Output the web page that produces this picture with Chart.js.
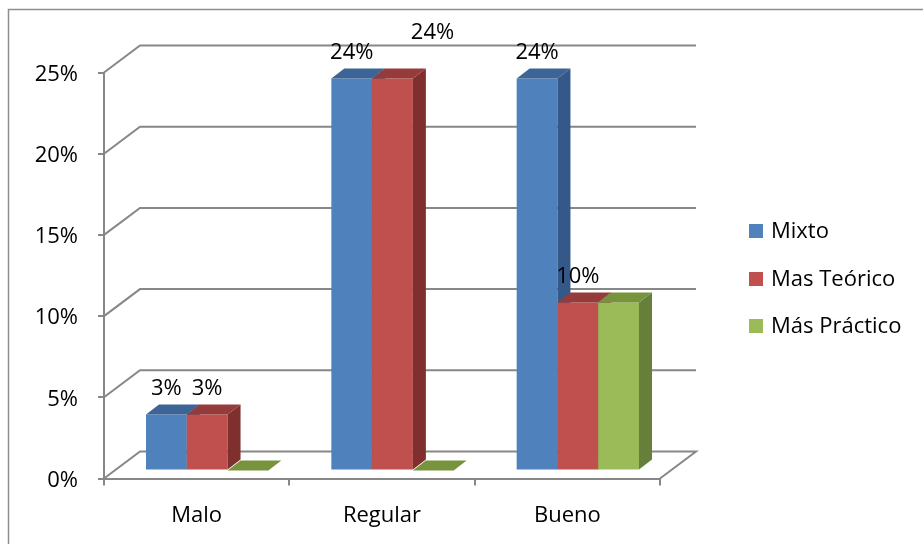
<!DOCTYPE html>
<html><head><meta charset="utf-8">
<script src="https://cdn.jsdelivr.net/npm/chart.js@4"></script>
<style>html,body{margin:0;padding:0;background:#fff;overflow:hidden}canvas{display:block}</style>
</head><body>
<canvas id="c" width="923" height="544"></canvas>
<script>
// ---- data ----
const categories = ['Malo', 'Regular', 'Bueno'];
const seriesNames = ['Mixto', 'Mas Teórico', 'Más Práctico'];
const mixto = [3.45, 24.14, 24.14];
const masTeorico = [3.45, 24.14, 10.34];
const masPractico = [0, 0, 10.34];
const yTicks = [0, 5, 10, 15, 20, 25];

// ---- styles ----
const FONT = '"Open Sans", "DejaVu Sans", sans-serif';
const FRONT = ['#4F81BD', '#C0504D', '#9BBB59'];
const TOP = ['#3C6496', '#953B39', '#77933C'];
const SIDE = ['#345888', '#7F302E', '#667F3A'];
const GRID = '#878787';
const WALL = {dx: 36, dy: -27};
const SHIFT = {dx: 10.5, dy: -8};
const BDEP = {dx: 13, dy: -10};
const showLabel = [true, true, false];
const labelOffset = {'1-1': [40, -20]};

function poly(ctx, pts, color) {
  ctx.beginPath();
  ctx.moveTo(pts[0][0], pts[0][1]);
  for (let i = 1; i < pts.length; i++) ctx.lineTo(pts[i][0], pts[i][1]);
  ctx.closePath();
  ctx.fillStyle = color;
  ctx.fill();
}

const threeD = {
  id: 'threeD',
  beforeDraw(chart) {
    const ctx = chart.ctx;
    ctx.save();
    ctx.fillStyle = '#fff';
    ctx.fillRect(0, 0, chart.width, chart.height);
    ctx.strokeStyle = '#8e8e8e';
    ctx.lineWidth = 1.5;
    ctx.beginPath();
    ctx.moveTo(8.5, 544); ctx.lineTo(8.5, 9.5); ctx.lineTo(923, 9.5);
    ctx.stroke();
    const ys = chart.scales.y;
    const L = chart.chartArea.left, R = chart.chartArea.right;
    ctx.strokeStyle = GRID;
    ctx.lineWidth = 2;
    yTicks.forEach(v => {
      const y = ys.getPixelForValue(v);
      ctx.beginPath();
      ctx.moveTo(L, y);
      ctx.lineTo(L + WALL.dx, y + WALL.dy);
      ctx.lineTo(R + WALL.dx, y + WALL.dy);
      if (v === 0) ctx.lineTo(R, y);
      ctx.stroke();
    });
    ctx.restore();
  },
  // cancel the default (reverse-order) drawing; bars are drawn below in series order
  beforeDatasetDraw() { return false; },
  afterDatasetsDraw(chart) {
    const ctx = chart.ctx;
    const n = chart.data.labels.length;
    ctx.save();
    ctx.translate(SHIFT.dx, SHIFT.dy);
    for (let j = 0; j < n; j++) {
      chart.data.datasets.forEach((ds, i) => {
        const el = chart.getDatasetMeta(i).data[j];
        el.draw(ctx, chart.chartArea);
        const p = el.getProps(['x', 'y', 'base', 'width'], true);
        const l = p.x - p.width / 2, r = p.x + p.width / 2;
        const t = Math.min(p.y, p.base), b = Math.max(p.y, p.base);
        if (b - t > 0.5) {
          poly(ctx, [[r, t], [r + BDEP.dx, t + BDEP.dy], [r + BDEP.dx, b + BDEP.dy], [r, b]], SIDE[i]);
        }
        poly(ctx, [[l, t], [r, t], [r + BDEP.dx, t + BDEP.dy], [l + BDEP.dx, t + BDEP.dy]], TOP[i]);
      });
    }
    ctx.restore();

    ctx.save();
    ctx.font = '22px ' + FONT;
    ctx.fillStyle = '#000';
    ctx.textAlign = 'center';
    ctx.textBaseline = 'middle';
    chart.data.datasets.forEach((ds, i) => {
      if (!showLabel[i]) return;
      const meta = chart.getDatasetMeta(i);
      ds.data.forEach((v, j) => {
        if (!(v > 0)) return;
        const el = meta.data[j];
        const off = labelOffset[i + '-' + j] || [0, 0];
        const x = el.x + SHIFT.dx + off[0];
        const y = el.y + SHIFT.dy + BDEP.dy - 16 + off[1];
        ctx.fillText(Math.round(v) + '%', x, y);
      });
    });
    ctx.restore();
  },
  afterDraw(chart) {
    const ctx = chart.ctx;
    ctx.save();
    ctx.font = '22px ' + FONT;
    ctx.textBaseline = 'middle';
    ctx.textAlign = 'left';
    const rows = [231, 279, 326];
    chart.data.datasets.forEach((ds, i) => {
      ctx.fillStyle = FRONT[i];
      ctx.fillRect(749, rows[i] - 7, 14, 14);
      ctx.fillStyle = '#000';
      ctx.fillText(ds.label, 771, rows[i] + 1);
    });
    ctx.restore();
  }
};

const seriesData = [mixto, masTeorico, masPractico];
new Chart(document.getElementById('c'), {
  type: 'bar',
  data: {
    labels: categories,
    datasets: seriesData.map((d, i) => ({
      label: seriesNames[i],
      data: d,
      backgroundColor: FRONT[i],
      borderWidth: 0,
      clip: false,
      categoryPercentage: 0.66,
      barPercentage: 1.0
    }))
  },
  options: {
    responsive: false,
    animation: false,
    devicePixelRatio: 1,
    layout: {padding: {top: 72.5, right: 263, bottom: 0, left: 0}},
    plugins: {legend: {display: false}, tooltip: {enabled: false}},
    scales: {
      x: {
        afterFit(s) { s.height = 65.5; },
        grid: {drawOnChartArea: false, drawTicks: true, tickLength: 7, color: GRID, lineWidth: 2, offset: true},
        border: {display: true, color: GRID, width: 2},
        ticks: {font: {family: FONT, size: 22}, color: '#000', padding: 17}
      },
      y: {
        min: 0, max: 25,
        afterFit(s) { s.width = 104; },
        afterBuildTicks(s) { s.ticks = yTicks.map(v => ({value: v})); },
        grid: {drawOnChartArea: false, drawTicks: true, tickLength: 6, color: GRID, lineWidth: 2},
        border: {display: true, color: GRID, width: 2},
        ticks: {font: {family: FONT, size: 22}, color: '#000', padding: 20, labelOffset: 2, callback: v => v + '%'}
      }
    }
  },
  plugins: [threeD]
});
</script>
</body></html>
